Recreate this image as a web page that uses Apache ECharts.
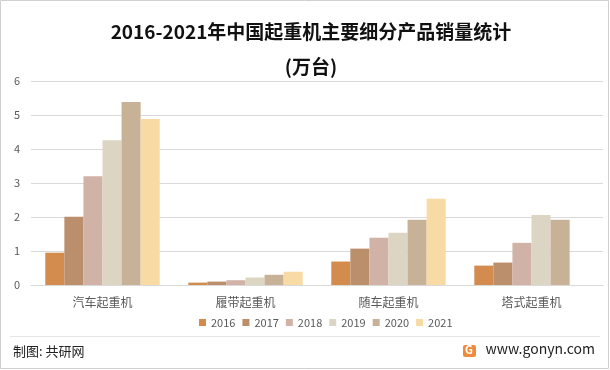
<!DOCTYPE html>
<html><head><meta charset="utf-8">
<script src="https://cdn.jsdelivr.net/npm/echarts@6/dist/echarts.min.js"></script>
<style>html,body{margin:0;padding:0;background:#fff}#c{width:610px;height:370px}</style>
</head><body><div id="c"></div>
<script>
var categories = ['汽车起重机', '履带起重机', '随车起重机', '塔式起重机'];
var years = ['2016', '2017', '2018', '2019', '2020', '2021'];
var v2016 = [0.95, 0.07, 0.69, 0.57];
var v2017 = [2.01, 0.10, 1.07, 0.66];
var v2018 = [3.20, 0.14, 1.39, 1.24];
var v2019 = [4.26, 0.22, 1.54, 2.06];
var v2020 = [5.38, 0.30, 1.92, 1.92];
var v2021 = [4.88, 0.39, 2.54, null];
var yTicks = [0, 1, 2, 3, 4, 5, 6];
var values = [v2016, v2017, v2018, v2019, v2020, v2021];
var colors = ['#D38B4E', '#BB8E6C', '#D1B2A6', '#DDD5C3', '#C7B298', '#F8DAA5'];
var font = '"Microsoft YaHei","Noto Sans CJK SC",sans-serif';
var chart = echarts.init(document.getElementById('c'), null, {renderer: 'canvas'});
chart.setOption({
  animation: false,
  backgroundColor: '#fff',
  color: colors,
  title: {
    text: '2016-2021年中国起重机主要细分产品销量统计\n(万台)',
    left: 306, top: 9, textAlign: 'center',
    textStyle: {fontFamily: font, fontSize: 19, fontWeight: 'bold', color: '#111', lineHeight: 35}
  },
  legend: {
    data: years, left: 194, top: 312, itemWidth: 7, itemHeight: 7, itemGap: 7,
    icon: 'rect',
    textStyle: {fontFamily: font, fontSize: 11, color: '#595959'}
  },
  grid: {left: 31, right: 7, top: 81, bottom: 85, containLabel: false},
  xAxis: {
    type: 'category', data: categories,
    axisLine: {lineStyle: {color: '#d9d9d9', width: 1}},
    axisTick: {show: false},
    axisLabel: {fontFamily: font, fontSize: 12, color: '#595959', margin: 11}
  },
  yAxis: {
    type: 'value', min: 0, max: 6, interval: 1,
    axisLine: {show: false}, axisTick: {show: false},
    splitLine: {lineStyle: {color: '#d9d9d9', width: 1}},
    axisLabel: {fontFamily: font, fontSize: 11, color: '#595959', margin: 11,
      formatter: function (v) { return yTicks.indexOf(v) >= 0 ? String(v) : ''; }}
  },
  series: years.map(function (y, i) {
    return {name: y, type: 'bar', data: values[i], barGap: '0%', barCategoryGap: '20%',
      itemStyle: {color: colors[i]}};
  }),
  graphic: [
    {type: 'rect', shape: {x: 0.5, y: 0.5, width: 608, height: 368}, style: {fill: 'none', stroke: '#d0d0d0', lineWidth: 1}, silent: true},
    {type: 'line', shape: {x1: 10, y1: 336.5, x2: 600, y2: 336.5}, style: {stroke: '#e6e6e6', lineWidth: 1}},
    {type: 'text', left: 13, top: 345, style: {text: '制图: 共研网', fontFamily: font, fontSize: 13, fill: '#222'}},
    {type: 'rect', shape: {x: 463, y: 345, width: 13, height: 12, r: 2}, style: {fill: '#F08A3C'}},
    {type: 'text', left: 465, top: 344, style: {text: 'G', fontFamily: font, fontSize: 11, fontWeight: 'bold', fill: '#fff'}},
    {type: 'text', right: 15, top: 342, style: {text: 'www.gonyn.com', fontFamily: font, fontSize: 14, fill: '#222'}}
  ]
});
</script></body></html>
